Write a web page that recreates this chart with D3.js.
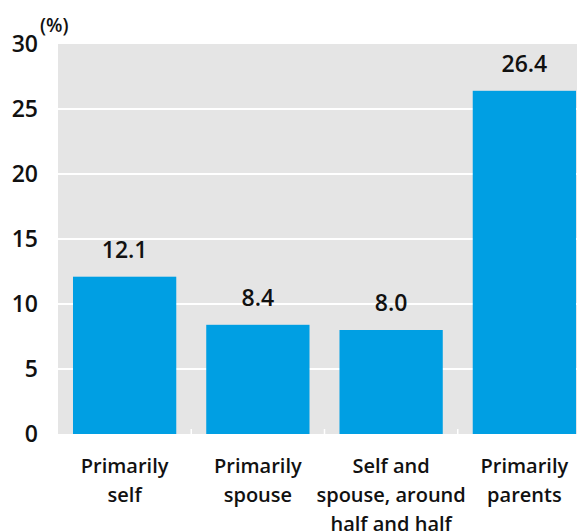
<!DOCTYPE html>
<html>
<head>
<meta charset="utf-8">
<script src="https://cdn.jsdelivr.net/npm/d3@7"></script>
<style>
  html, body { margin: 0; padding: 0; background: #fff; }
  svg { display: block; font-family: "Open Sans", "Noto Sans", sans-serif; }
</style>
</head>
<body>
<svg id="chart" width="577" height="531"></svg>
<script>
// Who pays: share of respondents by category (%)
const categories = [
  ["Primarily", "self"],
  ["Primarily", "spouse"],
  ["Self and", "spouse, around", "half and half"],
  ["Primarily", "parents"]
];
const values = [12.1, 8.4, 8.0, 26.4];
const yTicks = [0, 5, 10, 15, 20, 25, 30];
const unitLabel = "(%)";

const svg = d3.select("#chart");
const margin = { left: 58, top: 44, bottom: 97 };
const plotW = 533; // extends past the right edge of the canvas
const height = 531;

const keys = categories.map((c, i) => i);
const x = d3.scaleBand()
  .domain(keys)
  .range([margin.left, margin.left + plotW])
  .paddingInner(0.225)
  .paddingOuter(0.1125);

const y = d3.scaleLinear()
  .domain([0, 30])
  .range([height - margin.bottom, margin.top]);

// plot background
svg.append("rect")
  .attr("x", margin.left)
  .attr("y", y(30))
  .attr("width", plotW)
  .attr("height", y(0) - y(30))
  .attr("fill", "#e5e5e5");

// horizontal gridlines
svg.append("g")
  .selectAll("line")
  .data(yTicks.filter(t => t > 0 && t < 30))
  .join("line")
  .attr("x1", margin.left)
  .attr("x2", margin.left + plotW)
  .attr("y1", d => y(d))
  .attr("y2", d => y(d))
  .attr("stroke", "#fff")
  .attr("stroke-width", 2);

// small white ticks at category boundaries
const step = x.step();
svg.append("g")
  .selectAll("line")
  .data(keys.slice(1))
  .join("line")
  .attr("x1", d => x(d) - step * x.paddingInner() / 2)
  .attr("x2", d => x(d) - step * x.paddingInner() / 2)
  .attr("y1", y(0))
  .attr("y2", y(0) - 5)
  .attr("stroke", "#fff")
  .attr("stroke-width", 1.5);

// bars
svg.append("g")
  .selectAll("rect")
  .data(values)
  .join("rect")
  .attr("x", (d, i) => x(i))
  .attr("width", x.bandwidth())
  .attr("y", d => y(d))
  .attr("height", d => y(0) - y(d))
  .attr("fill", "#009fe3");

// value labels
svg.append("g")
  .selectAll("text")
  .data(values)
  .join("text")
  .attr("x", (d, i) => x(i) + x.bandwidth() / 2)
  .attr("y", d => y(d) - 19)
  .attr("text-anchor", "middle")
  .attr("font-size", 23)
  .attr("font-weight", 600)
  .attr("fill", "#111")
  .text(d => d.toFixed(1));

// y axis
const yAxis = d3.axisLeft(y).tickValues(yTicks).tickSize(0).tickPadding(0);
const gy = svg.append("g")
  .attr("transform", `translate(${margin.left - 20},0)`)
  .call(yAxis);
gy.select(".domain").remove();
gy.selectAll("text")
  .attr("font-size", 23)
  .attr("font-weight", 600)
  .attr("fill", "#111")
  .attr("font-family", "'Open Sans', 'Noto Sans', sans-serif");

svg.append("text")
  .attr("x", 40)
  .attr("y", 32)
  .attr("font-size", 19)
  .attr("font-weight", 600)
  .attr("fill", "#111")
  .text(unitLabel);

// category labels
const catG = svg.append("g");
categories.forEach((lines, i) => {
  const t = catG.append("text")
    .attr("text-anchor", "middle")
    .attr("font-size", 20)
    .attr("font-weight", 600)
    .attr("fill", "#111");
  lines.forEach((ln, j) => {
    t.append("tspan")
      .attr("x", x(i) + x.bandwidth() / 2)
      .attr("y", 473 + j * 29)
      .text(ln);
  });
});
</script>
</body>
</html>
